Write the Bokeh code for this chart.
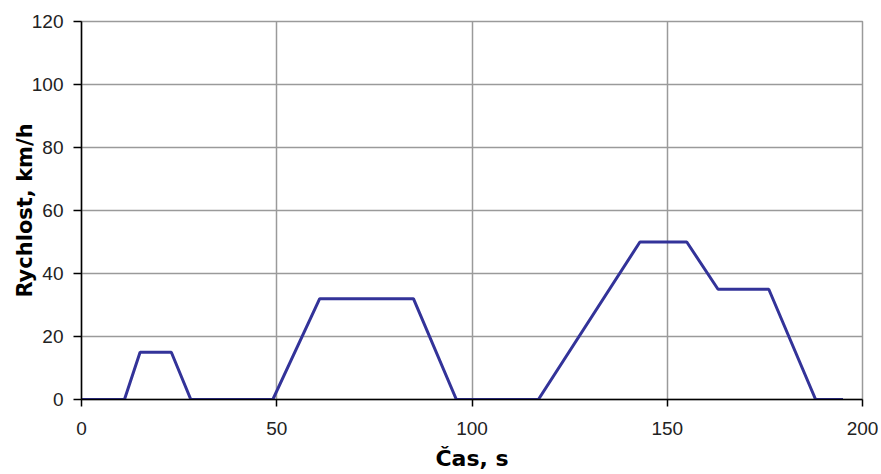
from bokeh.plotting import figure
from bokeh.models import Range1d, FixedTicker
from bokeh.embed import file_html
from bokeh.resources import INLINE

# ECE-15 urban driving cycle (breakpoints)
time_s = [0, 11, 15, 23, 28, 49, 61, 85, 96, 117, 143, 155, 163, 176, 188, 195]
speed_kmh = [0, 0, 15, 15, 0, 0, 32, 32, 0, 0, 50, 50, 35, 35, 0, 0]

x_ticks = [0, 50, 100, 150, 200]
y_ticks = [0, 20, 40, 60, 80, 100, 120]

p = figure(width=878, height=473, output_backend="svg", toolbar_location=None,
           x_range=Range1d(0, 200), y_range=Range1d(0, 120),
           min_border_left=81, min_border_right=16, min_border_top=21,
           min_border_bottom=71)

p.line(time_s, speed_kmh, line_color="#333399", line_width=3)

p.outline_line_color = "#9a9a9a"
p.outline_line_width = 1.5

for g in (p.xgrid, p.ygrid):
    g.grid_line_color = "#9a9a9a"
    g.grid_line_width = 1.5
p.xgrid.ticker = FixedTicker(ticks=x_ticks)
p.ygrid.ticker = FixedTicker(ticks=y_ticks)

p.xaxis.ticker = FixedTicker(ticks=x_ticks)
p.yaxis.ticker = FixedTicker(ticks=y_ticks)

for ax in (p.xaxis, p.yaxis):
    ax.axis_line_color = "black"
    ax.axis_line_width = 1.5
    ax.major_tick_line_color = "black"
    ax.major_tick_line_width = 1.5
    ax.minor_tick_line_color = None
    ax.major_tick_in = 0
    ax.major_label_text_font = "Liberation Sans"
    ax.major_label_text_font_size = "19px"
    ax.major_label_text_color = "#222222"
    ax.axis_label_text_font = "DejaVu Sans"
    ax.axis_label_text_font_style = "bold"
    ax.axis_label_text_color = "black"

p.xaxis.major_tick_out = 7
p.yaxis.major_tick_out = 8
p.xaxis.major_label_standoff = 15
p.yaxis.major_label_standoff = 10

p.xaxis.axis_label = "Čas, s"
p.yaxis.axis_label = "Rychlost, km/h"
p.xaxis.axis_label_text_font_size = "22px"
p.yaxis.axis_label_text_font_size = "21px"
p.xaxis.axis_label_standoff = 8
p.yaxis.axis_label_standoff = -8

open("out.html", "w").write(file_html(p, INLINE))
